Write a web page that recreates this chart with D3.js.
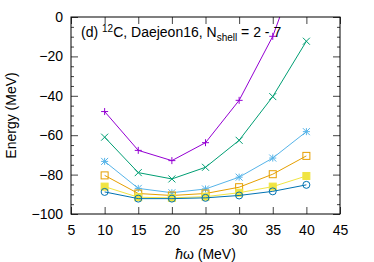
<!DOCTYPE html>
<html>
<head>
<meta charset="utf-8">
<script src="https://cdn.jsdelivr.net/npm/d3@7"></script>
<style>
  body { margin: 0; background: #fff; }
  text { font-family: "Liberation Sans", Arial, sans-serif; }
</style>
</head>
<body>
<svg id="chart" width="374" height="262"></svg>
<script>
// hbar omega values (MeV)
var hw = [10, 15, 20, 25, 30, 35, 40];

// ground state energy of 12C for each Nshell
var eN2 = [-48, -67.7, -72.9, -63.8, -42.3, -9.8, 37];
var eN3 = [-61, -79, -82.2, -76.3, -62.6, -40.4, -12.3];
var eN4 = [-73.3, -87, -89.2, -87.3, -81.3, -71.6, -58.2];
var eN5 = [-80.4, -89.6, -90.6, -89.6, -86.4, -79.8, -70.5];
var eN6 = [-86.1, -91.5, -91.8, -91.2, -89.2, -86.1, -80.7];
var eN7 = [-88.8, -92.2, -92.2, -91.8, -90.6, -88.5, -85.2];

var xTicks = [5, 10, 15, 20, 25, 30, 35, 40, 45];
var yTicks = [0, -20, -40, -60, -80, -100];
var yMinor = [-5, -10, -15, -25, -30, -35, -45, -50, -55, -65, -70, -75, -85, -90, -95];

var series = [
    {vals: eN2, color: "#9400d3", pt: "plus"},
    {vals: eN3, color: "#009e73", pt: "cross"},
    {vals: eN4, color: "#56b4e9", pt: "star"},
    {vals: eN5, color: "#e69f00", pt: "osquare"},
    {vals: eN6, color: "#f0e442", pt: "fsquare"},
    {vals: eN7, color: "#0072b2", pt: "ocircle"}
];

var pLeft = 71, pRight = 340, pTop = 17, pBottom = 214;

var svg = d3.select("#chart");

var x = d3.scaleLinear().domain([5, 45]).range([pLeft, pRight]);
var y = d3.scaleLinear().domain([-100, 0]).range([pBottom, pTop]);

svg.append("defs").append("clipPath")
    .attr("id", "plotclip")
  .append("rect")
    .attr("x", pLeft)
    .attr("y", pTop)
    .attr("width", pRight - pLeft)
    .attr("height", pBottom - pTop);

// axes with inward ticks
svg.append("g")
    .attr("transform", "translate(0," + pBottom + ")")
    .call(d3.axisBottom(x).tickValues(xTicks).tickSize(-7).tickPadding(11));

svg.append("g")
    .attr("transform", "translate(0," + pTop + ")")
    .call(d3.axisTop(x).tickValues(xTicks).tickSize(-7).tickFormat(""));

svg.append("g")
    .attr("transform", "translate(" + pLeft + ",0)")
    .call(d3.axisLeft(y).tickValues(yTicks).tickSize(-7).tickPadding(8));

svg.append("g")
    .attr("transform", "translate(" + pLeft + ",0)")
    .call(d3.axisLeft(y).tickValues(yMinor).tickSize(-3).tickFormat(""));

svg.append("g")
    .attr("transform", "translate(" + pRight + ",0)")
    .call(d3.axisRight(y).tickValues(yTicks).tickSize(-7).tickFormat(""));

svg.append("g")
    .attr("transform", "translate(" + pRight + ",0)")
    .call(d3.axisRight(y).tickValues(yMinor).tickSize(-3).tickFormat(""));

svg.selectAll(".domain").remove();
svg.selectAll(".tick line").attr("stroke", "#444").attr("stroke-width", 1);
svg.selectAll(".tick text")
    .attr("fill", "#000")
    .style("font-size", "14px")
    .style("font-family", "'Liberation Sans', Arial, sans-serif");

// curves
var plot = svg.append("g").attr("clip-path", "url(#plotclip)");

var line = d3.line()
    .x(function(d, i){ return x(hw[i]); })
    .y(function(d){ return y(d); });

function drawPoint(g, pt, color, cx, cy){
    var s = 3.5;
    if (pt == "plus" || pt == "star") {
        g.append("path")
            .attr("d", "M" + (cx - s) + "," + cy + "H" + (cx + s) + "M" + cx + "," + (cy - s) + "V" + (cy + s))
            .attr("stroke", color).attr("stroke-width", 1).attr("fill", "none");
    }
    if (pt == "cross" || pt == "star") {
        g.append("path")
            .attr("d", "M" + (cx - s) + "," + (cy - s) + "L" + (cx + s) + "," + (cy + s) +
                       "M" + (cx - s) + "," + (cy + s) + "L" + (cx + s) + "," + (cy - s))
            .attr("stroke", color).attr("stroke-width", 1).attr("fill", "none");
    }
    if (pt == "osquare" || pt == "fsquare") {
        g.append("rect")
            .attr("x", cx - s).attr("y", cy - s)
            .attr("width", 2 * s).attr("height", 2 * s)
            .attr("stroke", color).attr("stroke-width", 1)
            .attr("fill", pt == "fsquare" ? color : "none");
    }
    if (pt == "ocircle") {
        g.append("circle")
            .attr("cx", cx).attr("cy", cy).attr("r", s)
            .attr("stroke", color).attr("stroke-width", 1).attr("fill", "none");
    }
}

series.forEach(function(s){
    plot.append("path")
        .datum(s.vals)
        .attr("d", line)
        .attr("fill", "none")
        .attr("stroke", s.color)
        .attr("stroke-width", 1);
    s.vals.forEach(function(v, i){
        drawPoint(plot, s.pt, s.color, x(hw[i]), y(v));
    });
});

// frame
svg.append("rect")
    .attr("x", pLeft)
    .attr("y", pTop)
    .attr("width", pRight - pLeft)
    .attr("height", pBottom - pTop)
    .attr("fill", "none")
    .attr("stroke", "#000")
    .attr("stroke-width", 1);

// key title inside the plot
var title = svg.append("text")
    .attr("x", 81)
    .attr("y", 37)
    .style("font-size", "14px");
title.append("tspan").text("(d) ");
title.append("tspan").attr("dy", -5).style("font-size", "10px").text("12");
title.append("tspan").attr("dy", 5).text("C, Daejeon16, N");
title.append("tspan").attr("dy", 4).style("font-size", "10px").text("shell");
title.append("tspan").attr("dy", -4).text(" = 2 - 7");

// axis labels
svg.append("text")
    .attr("transform", "translate(16," + ((pTop + pBottom) / 2) + ") rotate(-90)")
    .attr("text-anchor", "middle")
    .style("font-size", "14px")
    .text("Energy (MeV)");

var xl = svg.append("text")
    .attr("x", (pLeft + pRight) / 2)
    .attr("y", 259)
    .attr("text-anchor", "middle")
    .style("font-size", "14px");
xl.append("tspan").style("font-style", "italic").text("\u0127");
xl.append("tspan").text("\u03c9 (MeV)");
</script>
</body>
</html>
